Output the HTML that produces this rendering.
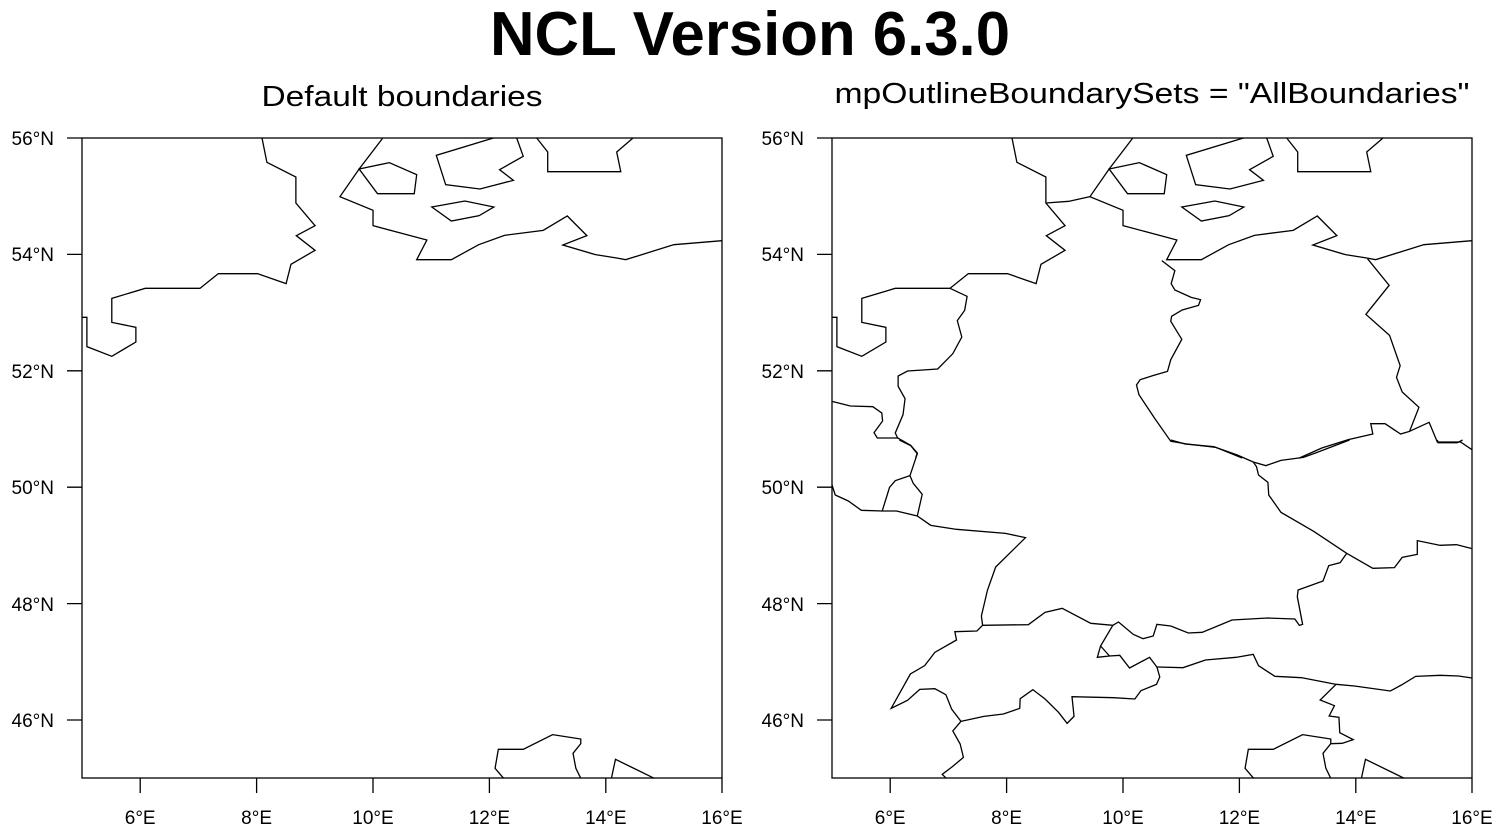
<!DOCTYPE html>
<html><head><meta charset="utf-8"><style>html,body{margin:0;padding:0;background:#fff}svg{display:block}</style></head>
<body>
<svg width="1502" height="833" viewBox="0 0 1502 833" xmlns="http://www.w3.org/2000/svg" font-family="Liberation Sans, Arial, sans-serif">
<defs>
<g id="coast1" fill="none" stroke="#000" stroke-width="1.3">
<polyline vector-effect="non-scaling-stroke" points="441,0 453,73 524,117 524,195 571,263 525,293 571,337 512,379 500,437 430,407 334,407 289,451 155,451 73,481 73,553 132,568 132,612 73,655 12,626 12,538 0,538"/>
<polyline vector-effect="non-scaling-stroke" points="737,0 679,93 632,176 713,217 713,263 845,306 820,365 905,365 972,320 1035,292 1130,277 1189,234 1237,293 1178,321 1258,350 1310,360 1332,365 1450,320 1568,308"/>
<polygon vector-effect="non-scaling-stroke" points="679,93 753,74 820,110 814,167 724,167"/>
<polyline vector-effect="non-scaling-stroke" points="1008,0 868,52 891,140 975,153 1057,127 1023,95 1081,55 1065,0"/>
<polyline vector-effect="non-scaling-stroke" points="1114,0 1141,42 1141,101 1320,101 1310,42 1350,0"/>
<polygon vector-effect="non-scaling-stroke" points="857,207 938,189 1009,207 973,233 905,249"/>
</g>
<g id="coast2" fill="none" stroke="#000" stroke-width="1.3">
<polyline vector-effect="non-scaling-stroke" points="1033,1015 1012,985 1020,928 1081,928 1153,884 1222,897 1222,911 1203,940 1210,985 1222,1015"/>
<polyline vector-effect="non-scaling-stroke" points="1297,1015 1307,958 1402,1015"/>
</g>
</defs>

<text x="750" y="55" font-size="62" font-weight="bold" text-anchor="middle" textLength="520" lengthAdjust="spacingAndGlyphs">NCL Version 6.3.0</text>
<text x="402" y="106" font-size="29" text-anchor="middle" textLength="281" lengthAdjust="spacingAndGlyphs">Default boundaries</text>
<text x="1152" y="103" font-size="29" text-anchor="middle" textLength="635" lengthAdjust="spacingAndGlyphs">mpOutlineBoundarySets = "AllBoundaries"</text>

<g transform="translate(832,138) scale(0.408163,0.333333)"><use href="#coast1"/>
<g fill="none" stroke="#000" stroke-width="1.3">
<polyline vector-effect="non-scaling-stroke" points="524,195 580,190 632,176"/>
<polyline vector-effect="non-scaling-stroke" points="289,451 331,475 325,517 307,548 318,597 296,647 259,693 185,699 162,714 162,745 179,782 174,830 155,885 161,900 193,922 209,945 205,960"/>
<polyline vector-effect="non-scaling-stroke" points="0,790 45,804 100,806 122,825 124,849 103,884 111,900 161,900"/>
<polyline vector-effect="non-scaling-stroke" points="808,368 840,398 831,437 840,456 880,478 903,485 898,502 858,516 832,535 830,550 857,604 830,665 822,700 786,713 755,725 746,741 752,770 790,840 830,910 870,918 940,928 1005,960"/>
<polyline vector-effect="non-scaling-stroke" points="1145,960 1200,930 1265,905 1325,888 1320,857 1355,857 1393,888 1415,880 1438,808 1397,762 1383,718 1392,683 1366,592 1308,529 1365,442 1312,362"/>
<polyline vector-effect="non-scaling-stroke" points="1415,880 1463,853 1483,912 1540,912 1568,935"/>
</g></g>
<g transform="translate(832,440) scale(0.408163,0.333333)"><use href="#coast2"/>
<g fill="none" stroke="#000" stroke-width="1.3">
<polyline vector-effect="non-scaling-stroke" points="165,0 193,17 209,41 191,107 199,130 221,163 209,228"/>
<polyline vector-effect="non-scaling-stroke" points="191,107 155,122 141,142 123,213"/>
<polyline vector-effect="non-scaling-stroke" points="0,135 8,165 40,183 72,211 123,213 158,213 209,228 242,256 305,268 425,280 474,293 401,381 381,450 366,528 369,556 481,554 522,517 564,505 634,550 688,556 702,546 738,583 762,596 787,588 796,553 830,558 873,579 907,577 980,540 1067,534 1134,537 1145,556 1153,553 1140,470 1142,450 1203,423 1217,377 1245,368 1261,340"/>
<polyline vector-effect="non-scaling-stroke" points="830,0 865,12 935,20 993,45 1032,66 1063,77 1100,61 1155,52 1187,38 1268,0"/>
<polyline vector-effect="non-scaling-stroke" points="1032,66 1040,80 1045,105 1068,127 1070,165 1100,217 1180,274 1261,340 1325,385 1378,383 1397,352 1434,343 1434,302 1490,316 1530,314 1568,326"/>
<polyline vector-effect="non-scaling-stroke" points="1483,0 1485,8 1532,8 1545,0"/>
<polyline vector-effect="non-scaling-stroke" points="369,556 355,573 301,575 305,600 252,637 227,677 192,702 145,805 185,781 215,748 252,746 279,764 293,807 316,844 296,873 314,912 322,952 295,980 270,1003 280,1015"/>
<polyline vector-effect="non-scaling-stroke" points="316,844 372,829 420,822 460,805 461,776 492,749 522,777 555,817 576,850 593,829 588,770 690,773 742,777 757,752 795,733 803,711 796,681 778,652 729,684 705,646 680,648 650,652 658,618 688,556"/>
<polyline vector-effect="non-scaling-stroke" points="658,618 680,648"/>
<polyline vector-effect="non-scaling-stroke" points="796,681 860,683 915,660 990,652 1032,643 1045,677 1085,709 1150,713 1235,733 1280,738 1368,753 1395,735 1430,709 1490,706 1535,708 1568,714"/>
<polyline vector-effect="non-scaling-stroke" points="1235,733 1196,780 1231,797 1218,828 1242,832 1244,878 1277,899 1250,910 1222,911"/>
</g></g>

<g transform="translate(82,138) scale(0.408163,0.333333)"><use href="#coast1"/></g>
<g transform="translate(82,440) scale(0.408163,0.333333)"><use href="#coast2"/></g>

<g fill="none" stroke="#000" stroke-width="1.3">
<rect x="82" y="138" width="640" height="640"/>
<path d="M67 138H82M67 254.4H82M67 370.8H82M67 487.2H82M67 603.6H82M67 720H82M140.2 778V793M256.6 778V793M373 778V793M489.4 778V793M605.8 778V793M722 778V793"/>
<rect x="832" y="138" width="640" height="640"/>
<path d="M817 138H832M817 254.4H832M817 370.8H832M817 487.2H832M817 603.6H832M817 720H832M890.2 778V793M1006.6 778V793M1123 778V793M1239.4 778V793M1355.8 778V793M1472 778V793"/>
</g>
<g font-size="19" text-anchor="end">
<text x="54" y="145">56°N</text><text x="54" y="261">54°N</text><text x="54" y="378">52°N</text><text x="54" y="494">50°N</text><text x="54" y="611">48°N</text><text x="54" y="727">46°N</text>
<text x="804" y="145">56°N</text><text x="804" y="261">54°N</text><text x="804" y="378">52°N</text><text x="804" y="494">50°N</text><text x="804" y="611">48°N</text><text x="804" y="727">46°N</text>
</g>
<g font-size="19" text-anchor="middle">
<text x="140.2" y="824">6°E</text><text x="256.6" y="824">8°E</text><text x="373" y="824">10°E</text><text x="489.4" y="824">12°E</text><text x="605.8" y="824">14°E</text><text x="722" y="824">16°E</text>
<text x="890.2" y="824">6°E</text><text x="1006.6" y="824">8°E</text><text x="1123" y="824">10°E</text><text x="1239.4" y="824">12°E</text><text x="1355.8" y="824">14°E</text><text x="1472" y="824">16°E</text>
</g>
</svg>
</body></html>
